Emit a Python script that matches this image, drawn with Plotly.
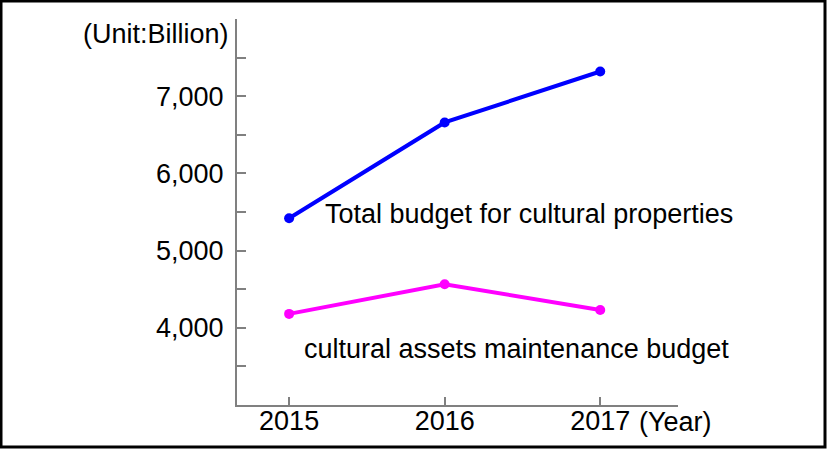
import plotly.graph_objects as go

years = [2015, 2016, 2017]
total_budget = [5420, 6660, 7320]
maintenance_budget = [4180, 4565, 4230]

y_tickvals = [3500, 4000, 4500, 5000, 5500, 6000, 6500, 7000, 7500]
y_ticktext = ["", "4,000", "", "5,000", "", "6,000", "", "7,000", ""]
x_tickvals = [2015, 2016, 2017]
x_ticktext = ["2015", "2016", "2017"]

W, H = 827, 449
ML, MR, MT, MB = 237, 149, 19, 44
PW, PH = W - ML - MR, H - MT - MB

FONT = "Liberation Sans, Arial, sans-serif"
FS = 27

fig = go.Figure()
fig.add_trace(go.Scatter(x=years, y=total_budget, mode="lines+markers",
                         line=dict(color="#0000FF", width=4),
                         marker=dict(color="#0000FF", size=10),
                         showlegend=False, hoverinfo="skip"))
fig.add_trace(go.Scatter(x=years, y=maintenance_budget, mode="lines+markers",
                         line=dict(color="#FF00FF", width=4),
                         marker=dict(color="#FF00FF", size=10),
                         showlegend=False, hoverinfo="skip"))

def px_x(p):
    return (p - ML) / PW

def px_y(p):
    return (H - MB - p) / PH

annotations = [
    dict(text="(Unit:Billion)", xref="paper", yref="paper", x=px_x(231), y=px_y(34),
         xanchor="right", yanchor="middle", showarrow=False,
         font=dict(size=FS, color="black", family=FONT)),
    dict(text="(Year)", xref="paper", yref="paper", x=px_x(637), y=px_y(422),
         xanchor="left", yanchor="middle", showarrow=False,
         font=dict(size=FS, color="black", family=FONT)),
    dict(text="Total budget for cultural properties", xref="x", yref="y",
         x=2015.22, y=5470, xanchor="left", yanchor="middle", showarrow=False,
         font=dict(size=FS, color="black", family=FONT)),
    dict(text="cultural assets maintenance budget", xref="x", yref="y",
         x=2015.085, y=3724, xanchor="left", yanchor="middle", showarrow=False,
         font=dict(size=FS, color="black", family=FONT)),
]

shapes = [
    dict(type="rect", xref="paper", yref="paper",
         x0=px_x(1), x1=px_x(825), y0=px_y(1), y1=px_y(447),
         line=dict(color="black", width=3), fillcolor="rgba(0,0,0,0)", layer="above"),
]

fig.update_layout(
    width=W, height=H,
    margin=dict(l=ML, r=MR, t=MT, b=MB, pad=0),
    paper_bgcolor="white", plot_bgcolor="white",
    font=dict(family=FONT, size=FS, color="black"),
    annotations=annotations, shapes=shapes,
    xaxis=dict(range=[2014.665, 2017.5], tickvals=x_tickvals, ticktext=x_ticktext,
               automargin=False,
               showgrid=False, zeroline=False, showline=True, linecolor="#808080",
               linewidth=2, ticks="inside", ticklen=8, tickwidth=1.5, tickcolor="#808080",
               ticklabelstandoff=-9,
               tickfont=dict(size=FS, color="black", family=FONT)),
    yaxis=dict(range=[3000, 8000], tickvals=y_tickvals, ticktext=y_ticktext,
               automargin=False,
               showgrid=False, zeroline=False, showline=True, linecolor="#808080",
               linewidth=2, ticks="inside", ticklen=9, tickwidth=1.5, tickcolor="#808080",
               ticklabelstandoff=6,
               tickfont=dict(size=FS, color="black", family=FONT)),
)

fig.write_html("out.html")
